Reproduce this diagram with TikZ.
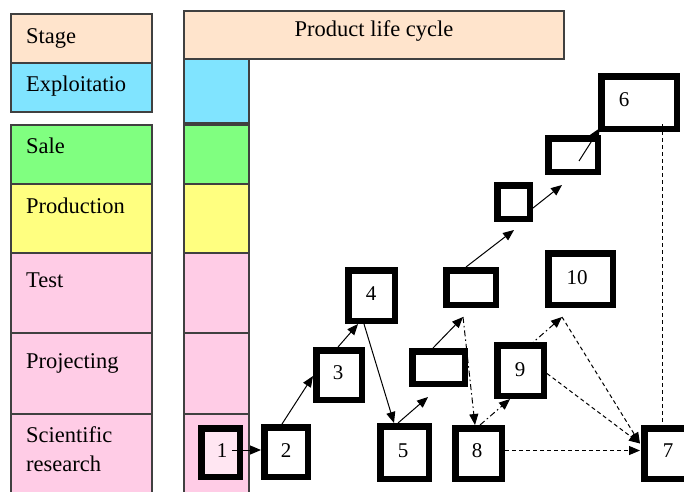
\documentclass[tikz,border=0pt]{standalone}
\usepackage{fontspec}
\setmainfont{Liberation Serif}
\usetikzlibrary{arrows.meta,calc}
\definecolor{cpeach}{HTML}{FFE4CC}
\definecolor{ccyan}{HTML}{80E4FF}
\definecolor{cgreen}{HTML}{80FF80}
\definecolor{cyellow}{HTML}{FFFF80}
\definecolor{cpink}{HTML}{FFCCE6}
\definecolor{clpink}{HTML}{FFE6F2}
\definecolor{cedge}{HTML}{404040}
\tikzset{
  cell/.style={draw=cedge, line width=1.1pt},
  lbl/.style={anchor=base west, inner sep=0pt, font=\fontsize{22.5}{27}\selectfont},
  ttl/.style={anchor=base, inner sep=0pt, font=\fontsize{22.5}{27}\selectfont},
  num/.style={anchor=base, inner sep=0pt, font=\fontsize{21}{25}\selectfont},
  tb/.style={draw, line width=6.5pt, fill=white, inner sep=0pt},
  con/.style={line width=1pt, -{Triangle[length=11pt,width=9pt]}},
  plain/.style={line width=1pt},
  dsh/.style={dash pattern=on 4pt off 3pt},
  dd/.style={dash pattern=on 6pt off 3pt on 1.5pt off 3pt},
}
\begin{document}
\begin{tikzpicture}[x=1pt,y=-1pt]
\clip (0,0) rectangle (684,491);
\fill[white] (0,0) rectangle (684,491);
% left column
\filldraw[cell, fill=cpeach] (11,14) rectangle (152,63);
\filldraw[cell, fill=ccyan] (11,63) rectangle (152,112);
\filldraw[cell, fill=cgreen] (11,125) rectangle (152,184);
\filldraw[cell, fill=cyellow] (11,184) rectangle (152,253);
\filldraw[cell, fill=cpink] (11,253) rectangle (152,333);
\filldraw[cell, fill=cpink] (11,333) rectangle (152,414);
\filldraw[cell, fill=cpink] (11,414) rectangle (152,500);
% middle column
\filldraw[cell, fill=cpeach] (184,11) rectangle (564,59);
\filldraw[cell, fill=ccyan] (184,59) rectangle (249,123);
\filldraw[cell, fill=cgreen] (184,125) rectangle (249,184);
\filldraw[cell, fill=cyellow] (184,184) rectangle (249,253);
\filldraw[cell, fill=cpink] (184,253) rectangle (249,333);
\filldraw[cell, fill=cpink] (184,333) rectangle (249,414);
\filldraw[cell, fill=cpink] (184,414) rectangle (249,500);
% texts
\node[lbl] (tStage) at (26,43) {Stage};
\node[lbl] (tExpl) at (26,91) {Exploitatio};
\node[lbl] (tSale) at (26,153) {Sale};
\node[lbl] (tProd) at (26,213) {Production};
\node[lbl] (tTest) at (26,287) {Test};
\node[lbl] (tProj) at (26,368) {Projecting};
\node[lbl] (tSci) at (26,442) {Scientific};
\node[lbl] (tRes) at (26,471) {research};
\node[ttl] (tPlc) at (374,36) {Product life cycle};
% boxes
\node[tb, fill=clpink, minimum width=38.5pt, minimum height=48.5pt] (b1) at (220.5,452.5) {};
\node[tb, minimum width=43.5pt, minimum height=49.5pt] (b2) at (286,452) {};
\node[tb, minimum width=45.5pt, minimum height=49.5pt] (b3) at (339,375) {};
\node[tb, minimum width=46.5pt, minimum height=50.5pt] (b4) at (371.5,295.5) {};
\node[tb, minimum width=48.5pt, minimum height=52.5pt] (b5) at (404.5,452.5) {};
\node[tb, minimum width=52.5pt, minimum height=32.5pt] (bA) at (438.5,367.5) {};
\node[tb, minimum width=49.5pt, minimum height=34.5pt] (bB) at (471,287.5) {};
\node[tb, minimum width=32.5pt, minimum height=33.5pt] (bC) at (513.5,202) {};
\node[tb, minimum width=49.5pt, minimum height=33.5pt] (bD) at (573,155) {};
\node[tb, minimum width=75.5pt, minimum height=52.5pt] (b6) at (639,102.5) {};
\node[tb, minimum width=46.5pt, minimum height=50.5pt] (b8) at (478.5,453.5) {};
\node[tb, minimum width=46.5pt, minimum height=50.5pt] (b9) at (520.5,370.5) {};
\node[tb, minimum width=64.5pt, minimum height=51.5pt] (b10) at (580.5,279) {};
\node[tb, minimum width=47.5pt, minimum height=50.5pt] (b7) at (668,453.5) {};
% numbers
\node[num] (l1) at (222,457) {1};
\node[num] (l2) at (286,457) {2};
\node[num] (l3) at (338,379) {3};
\node[num] (l4) at (371,300) {4};
\node[num] (l5) at (403,457) {5};
\node[num] (l8) at (477,457) {8};
\node[num] (l7) at (668,457) {7};
\node[num] (l9) at (520,376) {9};
\node[num] (l10) at (577,284) {10};
\node[num] (l6) at (624,106) {6};
% free ends
\coordinate (c5) at (428,397);
\coordinate (c6) at (463,317);
\coordinate (c7) at (514,230);
\coordinate (c8) at (562,185);
\coordinate (c10) at (562,317);
% solid connectors
\draw[con] ($(b1.center)+(11.5,-2.5)$) -- ($(b2.west)+(0,-2)$);
\draw[con] ($(b2.north)+(-4,0)$) -- ($(b3.west)+(0,1)$);
\draw[con] ($(b3.north)+(-1,0)$) -- ($(b4.south)+(-13.5,0)$);
\draw[con] ($(b4.south)+(-7.5,0)$) -- ($(b5.north)+(-10.5,0)$);
\draw[con] ($(b5.north)+(-6.5,0)$) -- (c5);
\draw[con] ($(bA.north)+(-5.5,0)$) -- (c6);
\draw[con] ($(bB.north)+(-5,0)$) -- (c7);
\draw[con] ($(bC.east)+(0,6)$) -- (c8);
\draw[con] ($(bD.center)+(6,6)$) -- ($(b6.south west)+(2,-4)$);
% dash-dot connectors
\draw[con, dd] (c6) -- ($(b8.north)+(-3.5,0)$);
\draw[con, dd] ($(b8.north)+(1.5,0)$) -- ($(b9.south)+(-10.5,0)$);
\draw[con, dd] ($(b9.north)+(8.5,4)$) -- (c10);
% dashed connectors
\draw[con, dsh] (c10) -- ($(b7.west)+(-1,-10)$);
\draw[con, dsh] ($(b9.east)+(0,3)$) -- ($(b7.west)+(-1,-10)$);
\draw[con, dsh] ($(b8.east)+(0,-3)$) -- ($(b7.west)+(-1,-3)$);
\draw[plain, dsh] ($(b6.south)+(23,-8)$) -- ($(b7.north)+(-6,0)$);
\end{tikzpicture}
\end{document}
